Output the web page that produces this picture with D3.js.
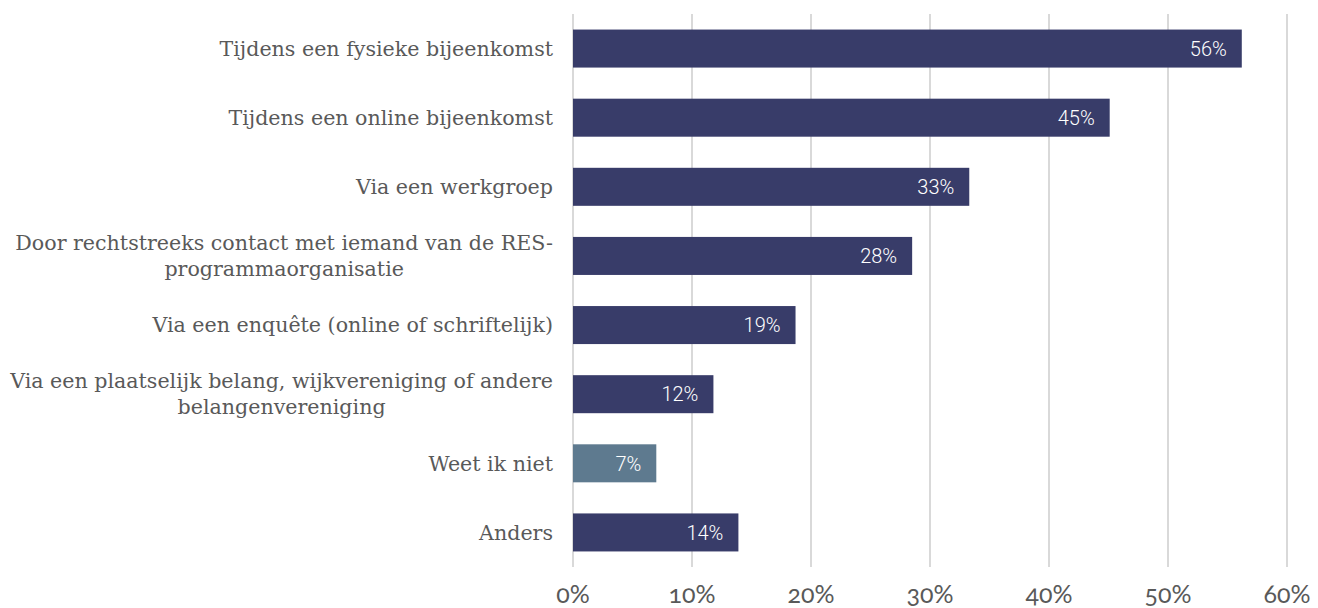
<!DOCTYPE html>
<html>
<head>
<meta charset="utf-8">
<script src="https://cdn.jsdelivr.net/npm/d3@7"></script>
<style>
  body { margin: 0; background: #fff; }
  .cat-label { font-family: "DejaVu Serif", serif; font-size: 20.6px; fill: #595959; }
  .tick-label { font-family: Lato, "Open Sans", sans-serif; font-size: 25px; fill: #595959; font-variant-numeric: oldstyle-nums; }
  .value-label { font-family: Roboto, sans-serif; font-size: 20px; font-weight: 300; fill: #fff; }
</style>
</head>
<body>
<div id="chart"></div>
<script>
// Chart data
const categories = [
  ["Tijdens een fysieke bijeenkomst"],
  ["Tijdens een online bijeenkomst"],
  ["Via een werkgroep"],
  ["Door rechtstreeks contact met iemand van de RES-", "programmaorganisatie"],
  ["Via een enquête (online of schriftelijk)"],
  ["Via een plaatselijk belang, wijkvereniging of andere", "belangenvereniging"],
  ["Weet ik niet"],
  ["Anders"]
];
const values = [56.2, 45.1, 33.3, 28.5, 18.7, 11.8, 7.0, 13.9];
const valueLabels = ["56%", "45%", "33%", "28%", "19%", "12%", "7%", "14%"];
const xTicks = [0, 10, 20, 30, 40, 50, 60];
const highlighted = [6]; // "Weet ik niet" gets a lighter colour

const width = 1318, height = 608;
const svg = d3.select('#chart').append('svg')
  .attr('width', width)
  .attr('height', height);

const x = d3.scaleLinear().domain([0, 60]).range([573, 1287]);
const y = d3.scaleBand()
  .domain(d3.range(categories.length))
  .range([14, 567])
  .paddingInner(0.45)
  .paddingOuter(0.225);

// Gridlines
svg.append('g')
  .selectAll('line')
  .data(xTicks)
  .join('line')
  .attr('x1', d => x(d)).attr('x2', d => x(d))
  .attr('y1', 14).attr('y2', 567)
  .attr('stroke', '#d9d9d9')
  .attr('stroke-width', 2);

// Tick labels
svg.append('g')
  .selectAll('text')
  .data(xTicks)
  .join('text')
  .attr('class', 'tick-label')
  .attr('x', d => x(d))
  .attr('y', 603)
  .attr('text-anchor', 'middle')
  .text(d => d + '%');

// Bars
svg.append('g')
  .selectAll('rect')
  .data(values)
  .join('rect')
  .attr('x', x(0))
  .attr('y', (d, i) => y(i))
  .attr('width', d => x(d) - x(0))
  .attr('height', y.bandwidth())
  .attr('fill', (d, i) => highlighted.includes(i) ? '#5e7a8f' : '#383c69');

// Value labels inside the bars
svg.append('g')
  .selectAll('text')
  .data(values)
  .join('text')
  .attr('class', 'value-label')
  .attr('x', d => x(d) - 15)
  .attr('y', (d, i) => y(i) + y.bandwidth() / 2)
  .attr('dy', '0.36em')
  .attr('text-anchor', 'end')
  .text((d, i) => valueLabels[i]);

// Category labels, right aligned, wrapped lines centred within the block
const labelRight = 553;
const lineHeight = 26;
categories.forEach((lines, i) => {
  const cy = y(i) + y.bandwidth() / 2;
  const t = svg.append('text')
    .attr('class', 'cat-label')
    .attr('text-anchor', 'middle');
  const spans = lines.map((line, k) => t.append('tspan')
    .attr('y', cy + (k - (lines.length - 1) / 2) * lineHeight)
    .attr('dy', '0.35em')
    .text(line));
  const maxW = d3.max(spans, s => s.node().getComputedTextLength());
  spans.forEach(s => s.attr('x', labelRight - maxW / 2));
});
</script>
</body>
</html>
